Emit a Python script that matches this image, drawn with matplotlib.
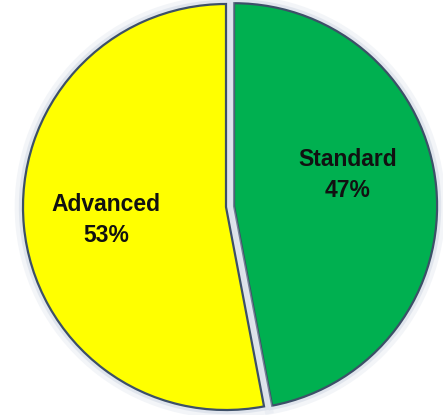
import matplotlib
matplotlib.use("Agg")
import matplotlib.pyplot as plt
import matplotlib.patheffects as pe

categories = ["Standard", "Advanced"]
shares = [47, 53]
colors = ["#00b050", "#ffff00"]
explode = [0.04, 0.0]

W, H = 443, 415
fig = plt.figure(figsize=(W / 100, H / 100), dpi=100)
ax = fig.add_axes([0, 0, 1, 1])

# pie centre and radius in pixels, used to set the axes window
cx, cy, r = 226, 207, 203

wedges, _ = ax.pie(
    shares,
    colors=colors,
    startangle=90,
    counterclock=False,
    explode=explode,
    radius=1.0,
    center=(0, 0),
    frame=True,
    wedgeprops=dict(edgecolor="#3d5068", linewidth=1.6),
)
ax.set_xlim(-cx / r, (W - cx) / r)
ax.set_ylim(-(H - cy) / r, cy / r)
ax.set_aspect("auto")
ax.axis("off")

# soft glow around each slice
for w in wedges:
    w.set_path_effects([
        pe.Stroke(linewidth=12, foreground="#dde3ec", alpha=0.35),
        pe.Stroke(linewidth=6, foreground="#cfd7e3", alpha=0.5),
        pe.Normal(),
    ])

label_pos = {"Standard": (348, 175), "Advanced": (106, 220)}
for name, val in zip(categories, shares):
    px, py = label_pos[name]
    ax.text((px - cx) / r, (cy - py) / r, f"{name}\n{val}%",
            ha="center", va="center",
            fontsize=16.5, fontweight="bold", family="Liberation Sans",
            color="#111111", linespacing=1.45)

fig.savefig("out.png", dpi=100)
